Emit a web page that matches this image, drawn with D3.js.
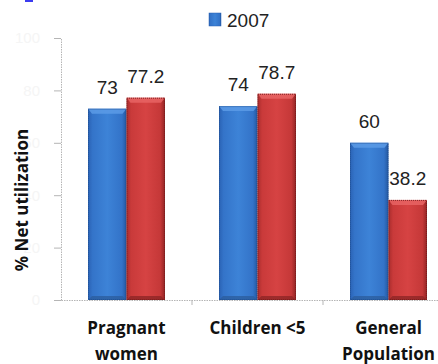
<!DOCTYPE html>
<html>
<head>
<meta charset="utf-8">
<script src="https://cdnjs.cloudflare.com/ajax/libs/d3/7.8.5/d3.min.js"></script>
<style>
  html, body { margin: 0; padding: 0; background: #fff; }
  svg { display: block; }
</style>
</head>
<body>
<svg id="chart" width="438" height="364"></svg>
<script>
// Net utilization by group
const categories = [["Pragnant", "women"], ["Children <5"], ["General", "Population"]];
const seriesNames = ["2007", "2010"];
const values2007 = [73, 74, 60];
const valuesLater = [77.2, 78.7, 38.2];
const labels2007 = ["73", "74", "60"];
const labelsLater = ["77.2", "78.7", "38.2"];
const yTicks = [0, 20, 40, 60, 80, 100];

const svg = d3.select("#chart");
const margin = { left: 61, right: -16, top: 38, bottom: 64 };
const W = 438, H = 364;

const x = d3.scaleBand()
  .domain(d3.range(categories.length))
  .range([margin.left, W - margin.right])
  .paddingInner(0).paddingOuter(0);
const inner = d3.scaleBand().domain([0, 1]).range([0, 77]);
const y = d3.scaleLinear().domain([0, 100]).range([H - margin.bottom, margin.top]);

// gradients for the bevelled bars
const defs = svg.append("defs");
function grad(id, stops) {
  const g = defs.append("linearGradient").attr("id", id)
    .attr("x1", "0%").attr("x2", "100%").attr("y1", "0%").attr("y2", "0%");
  stops.forEach(s => g.append("stop").attr("offset", s[0]).attr("stop-color", s[1]));
}
grad("gBlue", [["0%", "#2a62b4"], ["12%", "#3474c9"], ["50%", "#3d83d7"], ["88%", "#3373c8"], ["100%", "#24579f"]]);
grad("gRed", [["0%", "#a82c2c"], ["12%", "#c93a3a"], ["50%", "#d64343"], ["88%", "#c53838"], ["100%", "#922424"]]);
const topCol = ["#5c9be6", "#e86464"];
const botCol = ["#2c5e9f", "#8f2626"];
const fills = ["url(#gBlue)", "url(#gRed)"];

// y axis
const yAxis = d3.axisLeft(y).tickValues(yTicks).tickSize(7).tickPadding(14);
const gy = svg.append("g").attr("transform", `translate(${margin.left},0)`).call(yAxis);
gy.select(".domain").attr("stroke", "#b5b5b5").attr("stroke-dasharray", "1.5,1");
gy.selectAll(".tick line").attr("stroke", "#b5b5b5");
gy.selectAll(".tick text").attr("fill", "#f5f5f5")
  .style("font-family", "'Liberation Sans', Arial, sans-serif").style("font-size", "15px");

// x axis line with category dividers
const baseY = y(0);
const xAxis = d3.axisBottom(x).tickSize(0).tickFormat("");
const gx = svg.append("g").attr("transform", `translate(0,${baseY})`).call(xAxis);
gx.select(".domain").attr("stroke", "#b5b5b5").attr("stroke-dasharray", "1.5,1");
gx.selectAll(".tick").remove();
d3.range(1, categories.length).forEach(i => {
  gx.append("line").attr("x1", x(i)).attr("x2", x(i)).attr("y1", 0).attr("y2", 5)
    .attr("stroke", "#b5b5b5");
});

// bars
const series = [values2007, valuesLater];
const seriesLabels = [labels2007, labelsLater];
series.forEach((vals, s) => {
  vals.forEach((v, i) => {
    const bx = x(i) + (x.bandwidth() - inner.range()[1]) / 2 + inner(s);
    const bw = inner.bandwidth();
    const top = y(v);
    const g = svg.append("g");
    g.append("rect").attr("x", bx).attr("y", top).attr("width", bw).attr("height", baseY - top)
      .attr("fill", fills[s]);
    // top bevel
    g.append("path")
      .attr("d", `M${bx},${top} L${bx + bw},${top} L${bx + bw - 4},${top + 5} L${bx + 4},${top + 5} Z`)
      .attr("fill", topCol[s]).attr("opacity", 0.85);
    // bottom bevel
    g.append("path")
      .attr("d", `M${bx},${baseY} L${bx + bw},${baseY} L${bx + bw - 4},${baseY - 4} L${bx + 4},${baseY - 4} Z`)
      .attr("fill", botCol[s]).attr("opacity", 0.8);
    g.append("rect").attr("x", bx + 0.5).attr("y", top + 0.5).attr("width", bw - 1).attr("height", baseY - top - 1)
      .attr("fill", "none").attr("stroke", s === 0 ? "#1d4a8a" : "#6e1b1b").attr("stroke-width", 1)
      .attr("stroke-dasharray", "1,1").attr("opacity", 0.8);
    // value label
    svg.append("text").attr("x", bx + bw / 2).attr("y", top - 15)
      .attr("text-anchor", "middle")
      .style("font-family", "'Liberation Sans', Arial, sans-serif").style("font-size", "19px")
      .attr("fill", "#222").text(seriesLabels[s][i]);
  });
});

// category labels
categories.forEach((lines, i) => {
  const cx = x(i) + x.bandwidth() / 2;
  const t = svg.append("text").attr("x", cx).attr("y", 334)
    .attr("text-anchor", "middle")
    .style("font-family", "'Open Sans', sans-serif").style("font-weight", "bold").style("font-size", "17px")
    .attr("fill", "#111");
  lines.forEach((ln, k) => t.append("tspan").attr("x", cx).attr("dy", k === 0 ? 0 : 26).text(ln));
});

// y axis title
svg.append("text").attr("transform", "translate(28,200) rotate(-90)")
  .attr("text-anchor", "middle")
  .style("font-family", "'Open Sans', sans-serif").style("font-weight", "bold").style("font-size", "17px")
  .attr("fill", "#111").text("% Net utilization");

// legend
const lg = svg.append("g").attr("transform", "translate(209,13)");
lg.append("rect").attr("x", 0).attr("y", 0).attr("width", 12).attr("height", 13).attr("fill", "url(#gBlue)")
  .attr("stroke", "#2a62b4").attr("stroke-width", 0.5);
lg.append("text").attr("x", 18).attr("y", 14)
  .style("font-family", "'Liberation Sans', Arial, sans-serif").style("font-size", "19px")
  .attr("fill", "#222").text(seriesNames[0]);

// clipped heading marker at the top edge
svg.append("rect").attr("x", 25).attr("y", 0).attr("width", 8).attr("height", 2).attr("fill", "#3b3bf0");
</script>
</body>
</html>
